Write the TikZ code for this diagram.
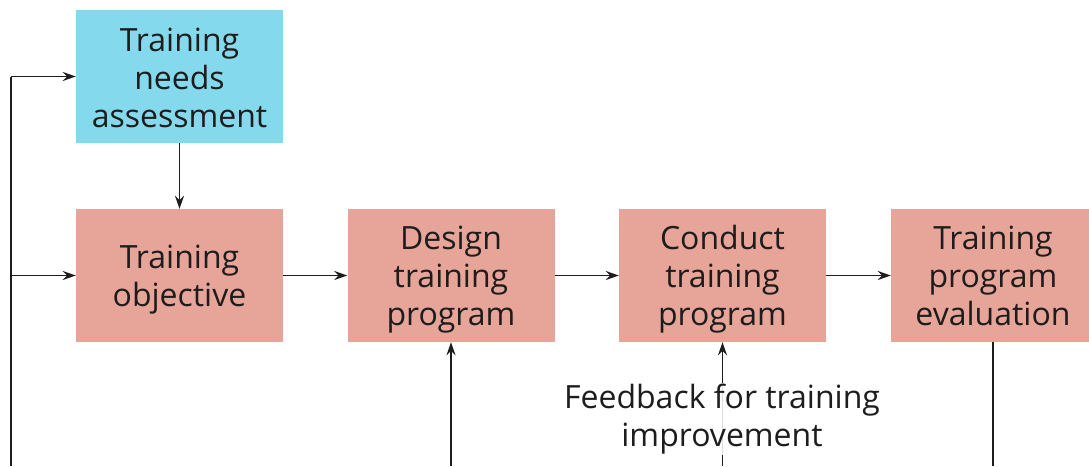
\documentclass[tikz,border=0pt]{standalone}
\usepackage{fontspec}
\setmainfont{Open Sans}
\usetikzlibrary{arrows.meta}
\definecolor{bluebox}{RGB}{132,218,236}
\definecolor{pinkbox}{RGB}{230,165,152}
\definecolor{ink}{RGB}{30,28,28}
\begin{document}
\begin{tikzpicture}[x=1pt,y=-1pt,
  box/.style={minimum width=207pt,minimum height=133pt,inner sep=0pt},
  bbox/.style={box,fill=bluebox},
  pbox/.style={box,fill=pinkbox},
  boxtext/.style={align=center,inner sep=0pt,text=ink,font=\fontsize{32}{38}\selectfont},
  conn/.style={draw=ink,line width=1.6pt,-{Stealth[length=13pt,width=9pt]}},
  plain/.style={draw=ink,line width=1.6pt}]
\useasboundingbox (0,0) rectangle (1089,466);
\node[bbox] (tna) at (179.5,76.5) {};
\node[pbox] (obj) at (179.5,275.5) {};
\node[pbox] (des) at (451,275.5) {};
\node[pbox] (con) at (722.5,275.5) {};
\node[pbox] (eva) at (994.5,275.5) {};
\node[boxtext] (tnat) at ([yshift=-1pt]tna.center) {Training\\needs\\assessment};
\node[boxtext] (objt) at ([yshift=-4pt]obj.center) {Training\\objective};
\node[boxtext] (dest) at ([yshift=-4pt]des.center) {Design\\training\\program};
\node[boxtext] (cont) at ([yshift=-4pt]con.center) {Conduct\\training\\program};
\node[boxtext] (evat) at ([yshift=-0.5pt,xshift=-1.5pt]eva.center) {Training\\program\\evaluation};
\coordinate (ltop) at (11,76.5);
\coordinate (lmid) at (11,275.5);
\coordinate (lbot) at (11,466);
\coordinate (dbot) at (451,466);
\coordinate (cbot) at (722.5,466);
\coordinate (ebot) at (993,466);
\draw[plain] (lbot) -- (ltop);
\draw[conn] (ltop) -- (tna.west);
\draw[conn] (lmid) -- (obj.west);
\draw[conn] (tna.south) -- (obj.north);
\draw[conn] (obj.east) -- (des.west);
\draw[conn] (des.east) -- (con.west);
\draw[conn] (con.east) -- (eva.west);
\draw[conn] (dbot) -- (des.south);
\draw[conn] (cbot) -- (con.south);
\draw[plain] (eva.south -| ebot) -- (ebot);
\node[fill=white,fill opacity=0.85,text opacity=1,text=ink,align=center,inner sep=1pt,
  font=\fontsize{32}{38}\selectfont] (fb) at (722,419) {Feedback for training\\improvement};
\end{tikzpicture}
\end{document}
